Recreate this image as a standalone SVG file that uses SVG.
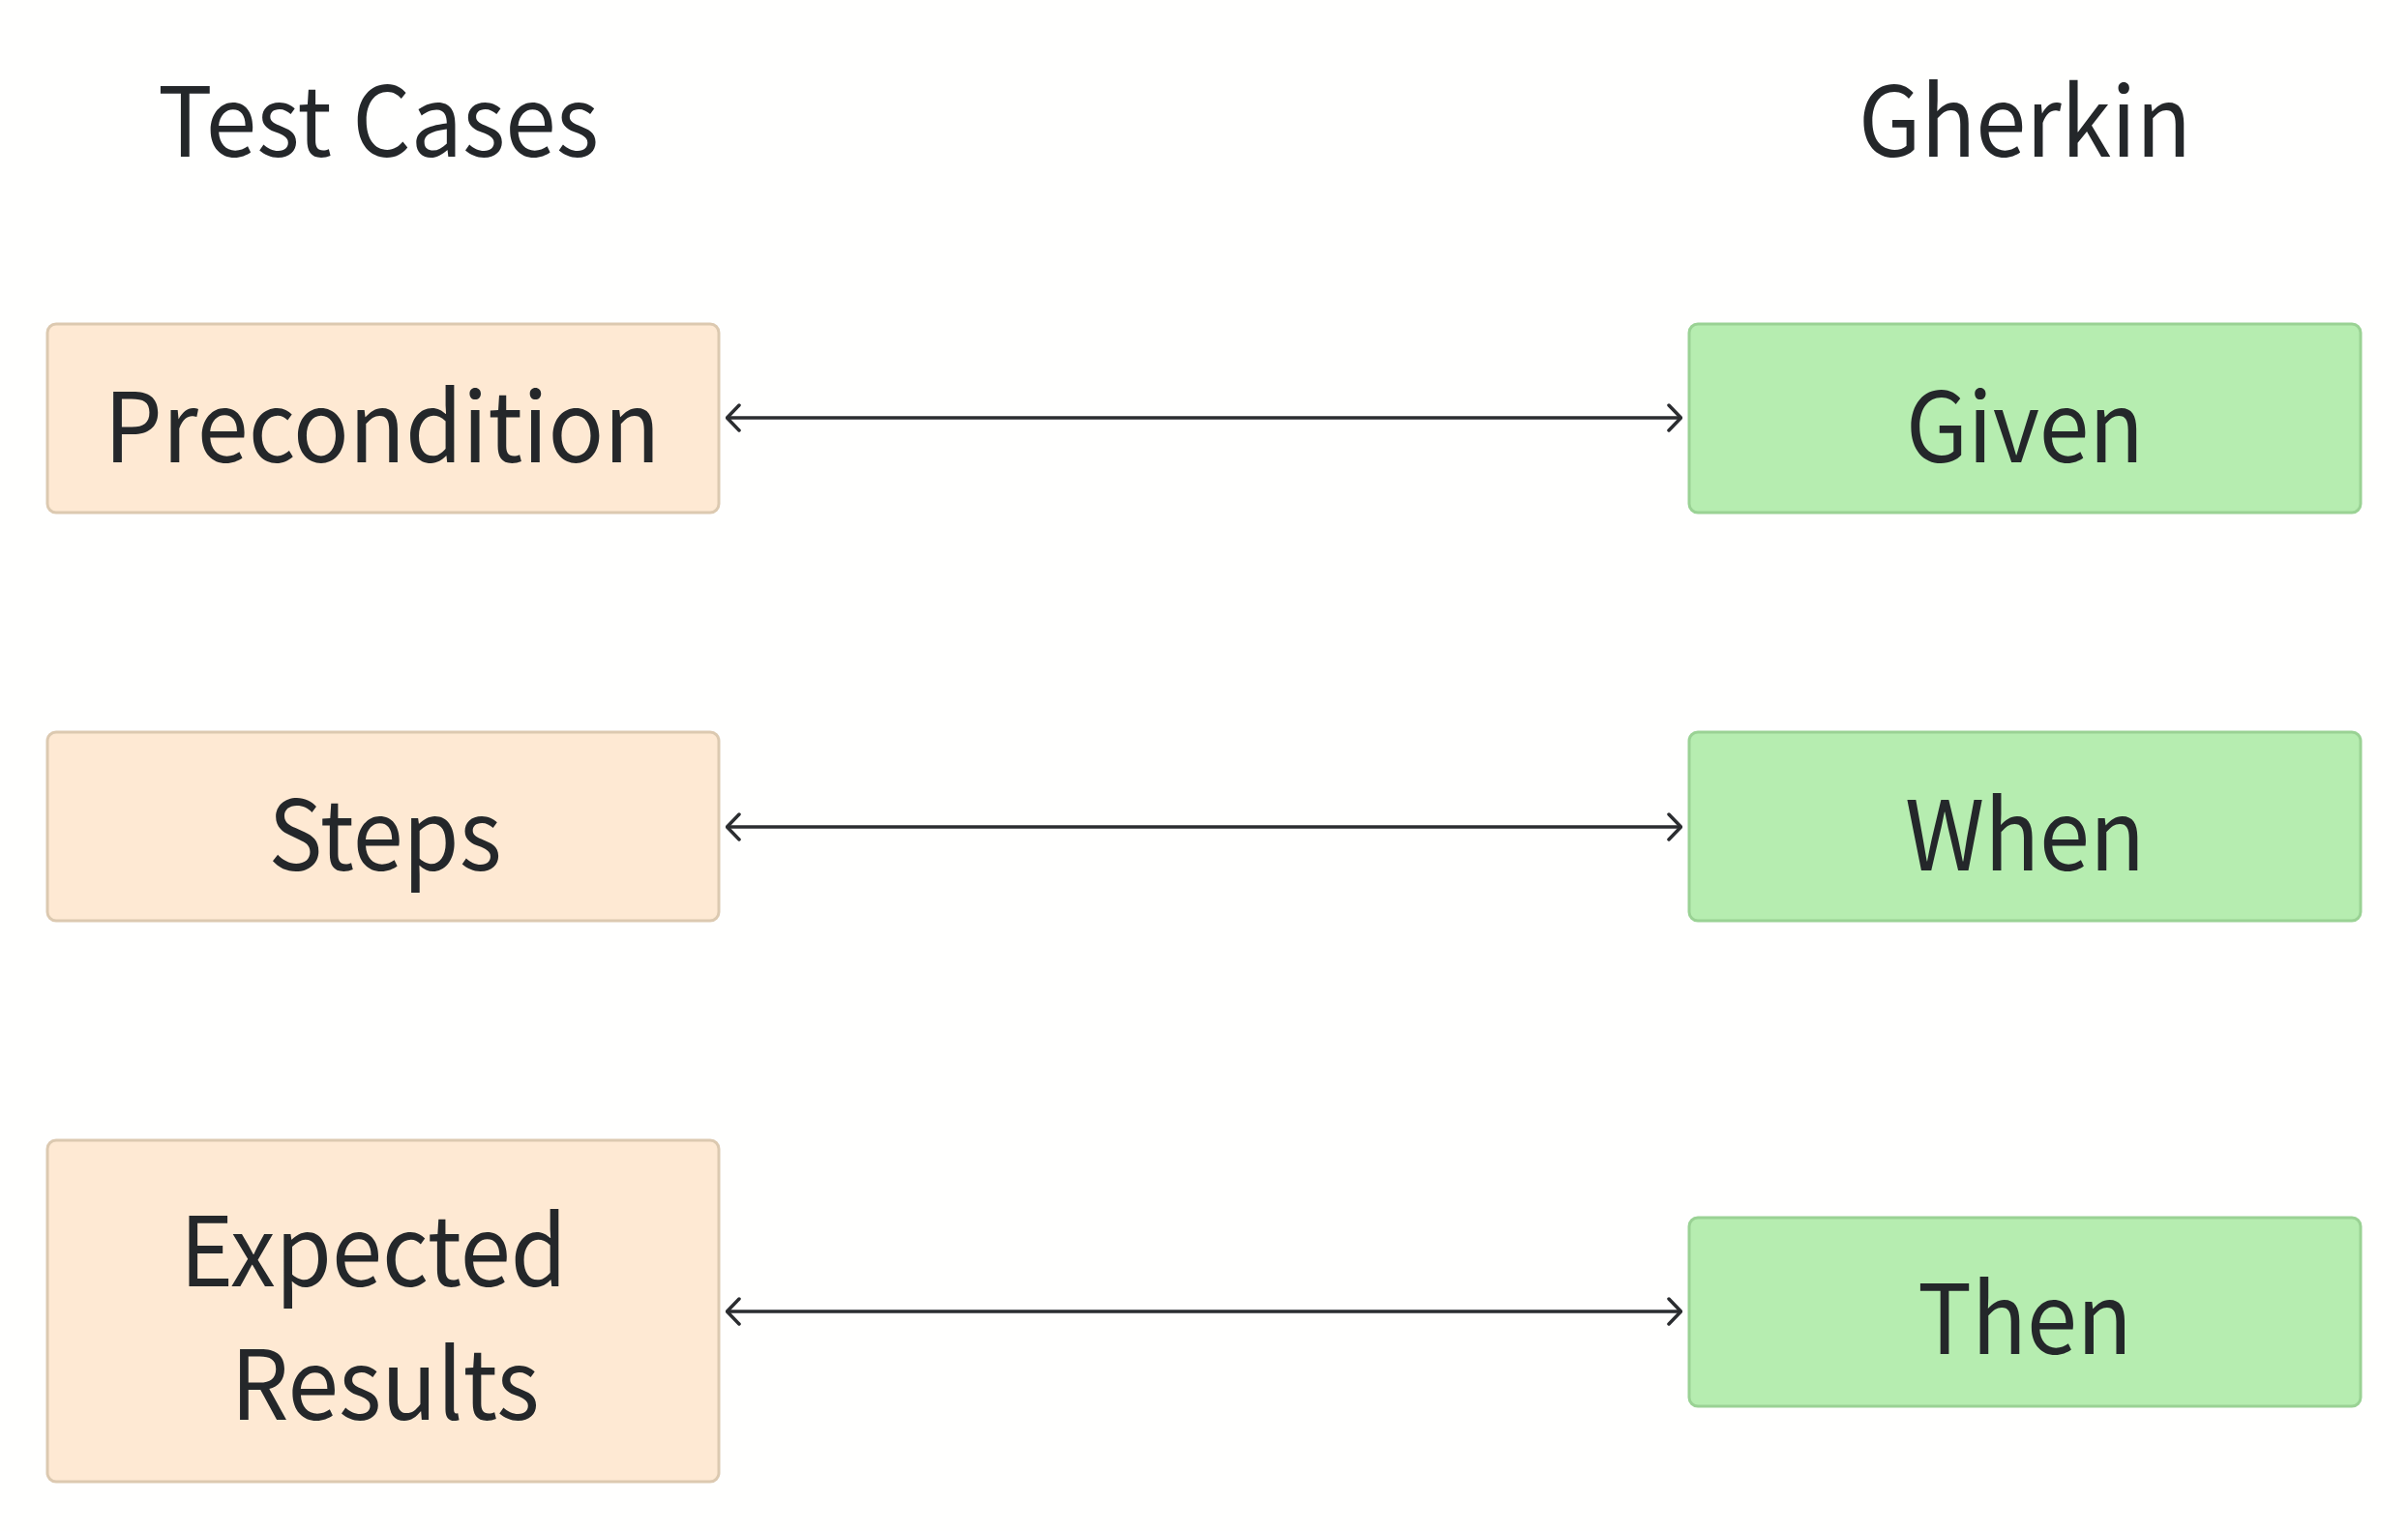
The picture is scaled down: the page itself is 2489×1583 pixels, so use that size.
<svg xmlns="http://www.w3.org/2000/svg" width="2489" height="1583" viewBox="0 0 2489 1583">
<style>
text{font-family:"Noto Sans CJK SC","Noto Sans",sans-serif;fill:#24272a;text-anchor:middle;font-size:100px}
.tc rect{fill:#fee9d3;stroke:#dcc9b0;stroke-width:3}
.gk rect{fill:#b6edb0;stroke:#9ad294;stroke-width:3}
.c line{stroke:#2b2d30;stroke-width:3.5}
</style>
<defs>
<marker id="ah" viewBox="0 0 16 30" refX="15" refY="15" markerWidth="16" markerHeight="30" markerUnits="userSpaceOnUse" orient="auto-start-reverse">
<path d="M2,2 L14.5,15 L2,28" fill="none" stroke="#2b2d30" stroke-width="3.5" stroke-linecap="round" stroke-linejoin="round"/>
</marker>
</defs>
<rect width="2489" height="1583" fill="#fffffe"/>
<g id="title-test-cases"><text x="391" y="162" textLength="456" lengthAdjust="spacingAndGlyphs">Test Cases</text></g>
<g id="title-gherkin"><text x="2093" y="162" textLength="344" lengthAdjust="spacingAndGlyphs">Gherkin</text></g>
<g class="c" id="connectors">
<line x1="751" y1="432" x2="1738" y2="432" marker-start="url(#ah)" marker-end="url(#ah)"/>
<line x1="751" y1="855" x2="1738" y2="855" marker-start="url(#ah)" marker-end="url(#ah)"/>
<line x1="751" y1="1356" x2="1738" y2="1356" marker-start="url(#ah)" marker-end="url(#ah)"/>
</g>
<g id="precondition" class="tc"><rect x="49" y="335" width="694" height="195" rx="9"/><text x="395" y="478" textLength="575" lengthAdjust="spacingAndGlyphs">Precondition</text></g>
<g id="steps" class="tc"><rect x="49" y="757" width="694" height="195" rx="9"/><text x="398" y="900" textLength="241" lengthAdjust="spacingAndGlyphs">Steps</text></g>
<g id="expected-results" class="tc"><rect x="49" y="1179" width="694" height="353" rx="9"/><text x="386" y="1330" textLength="400" lengthAdjust="spacingAndGlyphs">Expected</text><text x="398" y="1468" textLength="319" lengthAdjust="spacingAndGlyphs">Results</text></g>
<g id="given" class="gk"><rect x="1746" y="335" width="694" height="195" rx="9"/><text x="2093" y="478" textLength="246" lengthAdjust="spacingAndGlyphs">Given</text></g>
<g id="when" class="gk"><rect x="1746" y="757" width="694" height="195" rx="9"/><text x="2093" y="900" textLength="248" lengthAdjust="spacingAndGlyphs">When</text></g>
<g id="then" class="gk"><rect x="1746" y="1259" width="694" height="195" rx="9"/><text x="2093" y="1400" textLength="222" lengthAdjust="spacingAndGlyphs">Then</text></g>
</svg>
